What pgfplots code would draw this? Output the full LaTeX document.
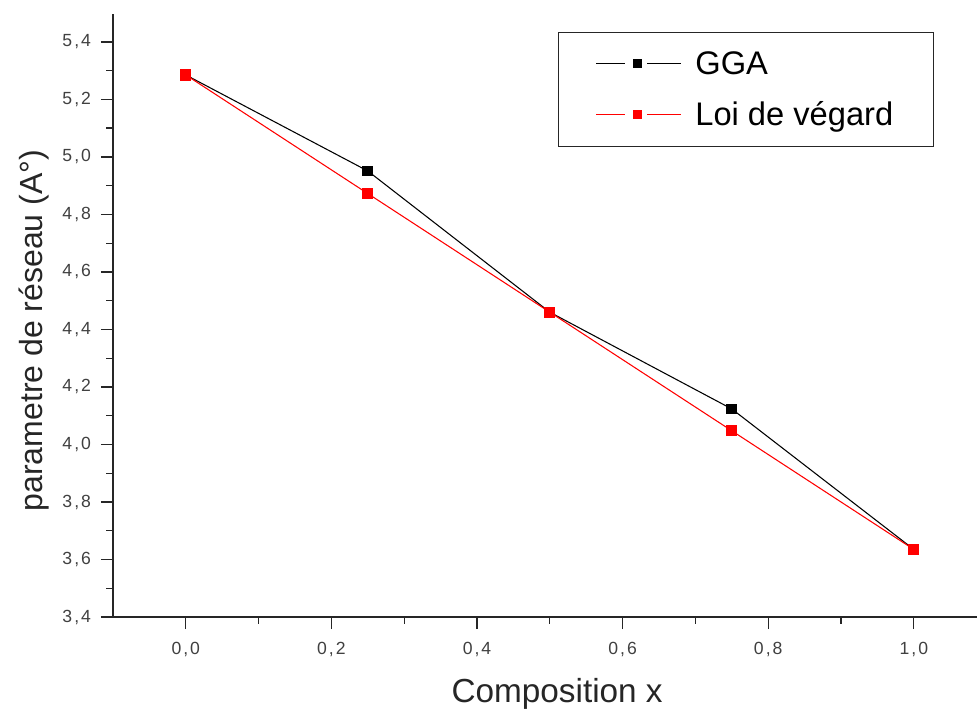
\documentclass[border=0pt]{standalone}
\usepackage{pgfplots}
\pgfplotsset{compat=1.18}
\usepackage{fontspec}
\setmainfont{Liberation Sans}
\begin{document}
\begin{tikzpicture}
\begin{axis}[
  at={(0pt,0pt)}, anchor=south west,
  scale only axis,
  width=648pt, height=452.25pt,
  xmin=-0.1, xmax=1.0868,
  ymin=3.4, ymax=5.497,
  axis lines*=left,
  axis line style={line width=1pt, black!85},
  tick align=outside,
  tick style={line width=1pt, black!85},
  major tick length=9pt,
  minor tick length=5pt,
  xtick={0,0.2,0.4,0.6,0.8,1.0},
  ytick={3.4,3.6,3.8,4.0,4.2,4.4,4.6,4.8,5.0,5.2,5.4},
  minor x tick num=1,
  minor y tick num=1,
  /pgf/number format/assume math mode=true,
  /pgf/number format/fixed,
  /pgf/number format/fixed zerofill,
  /pgf/number format/precision=1,
  /pgf/number format/set decimal separator={\hspace{1.5pt},\hspace{1.5pt}},
  ticklabel style={font=\fontsize{13.2}{15}\selectfont, text=black!75},
  xticklabel style={yshift=-6pt},
  yticklabel style={xshift=-4pt},
  xlabel={Composition x},
  ylabel={parametre de réseau (A°)},
  label style={font=\fontsize{24}{28}\selectfont, text=black!85},
  xlabel style={at={(ticklabel cs:0.514)}, font=\fontsize{25}{28}\selectfont, yshift=-10pt},
  ylabel style={at={(ticklabel cs:0.475)}, yshift=3.5pt},
  legend style={
    at={(0.515,0.970)}, anchor=north west,
    draw=black!85, line width=1pt,
    font=\fontsize{24.5}{28}\selectfont,
    inner xsep=28pt, inner ysep=12pt,
    row sep=15pt,
    column sep=8pt,
    legend cell align=left,
  },
  legend image code/.code={
    \draw[#1, line width=0.8pt] (0pt,0pt) -- (21.75pt,0pt);
    \draw[#1, line width=0.8pt] (38.25pt,0pt) -- (63.75pt,0pt);
    \draw[#1, only marks, mark size=3pt] plot coordinates {(30.75pt,0pt)};
  },
]
\addplot[black, line width=0.8pt, mark=square*, mark size=3.6pt, mark options={solid, black}]
  coordinates {(0,5.285) (0.25,4.951) (0.5,4.460) (0.75,4.1235) (1.0,3.635)};
\addlegendentry{GGA}
\addplot[red, line width=0.8pt, mark=square*, mark size=3.8pt, mark options={solid, red}]
  coordinates {(0,5.285) (0.25,4.8725) (0.5,4.460) (0.75,4.0475) (1.0,3.635)};
\addlegendentry{Loi de végard}
\end{axis}
\pgfresetboundingbox
\path[use as bounding box] (-84.75pt,-70.5pt) rectangle (648pt,462.75pt);
\end{tikzpicture}
\end{document}
